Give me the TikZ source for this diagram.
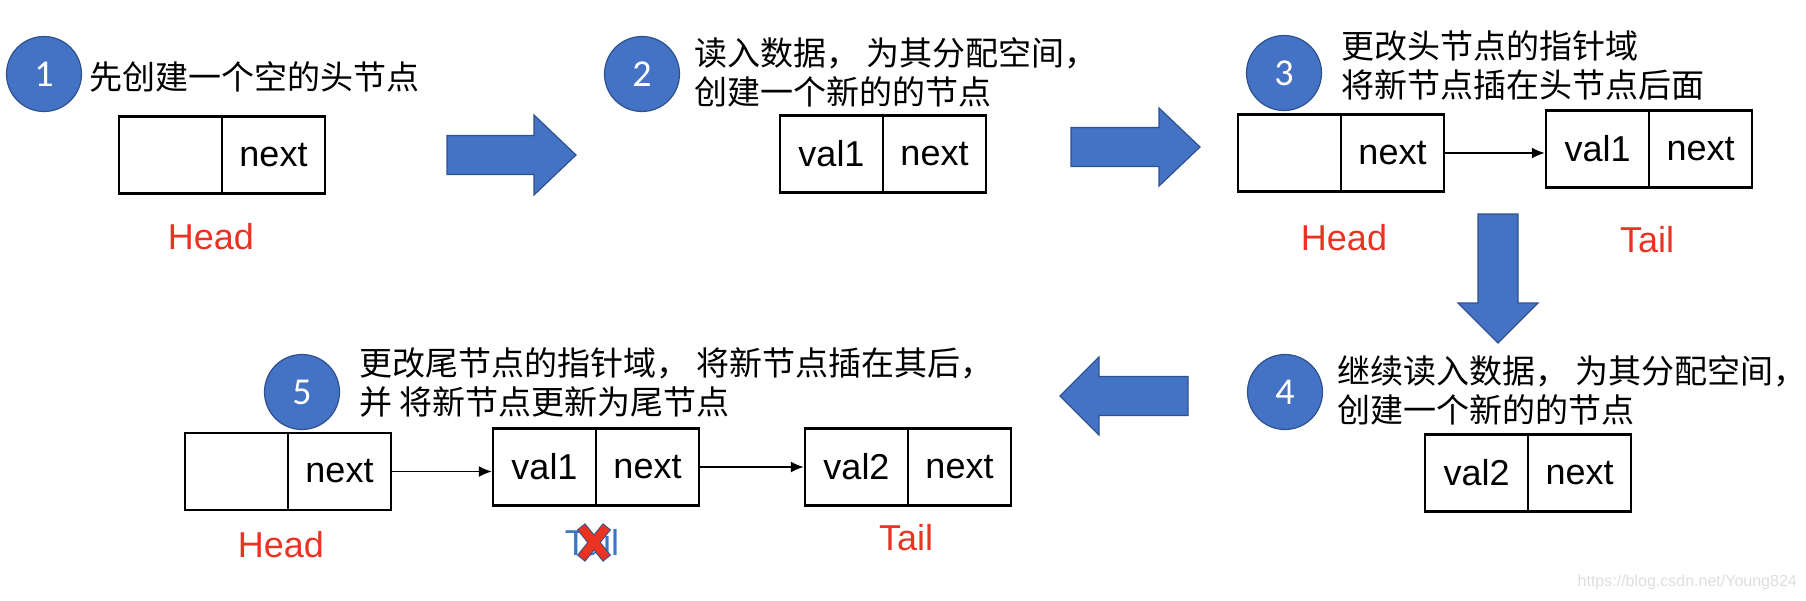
\documentclass[tikz,border=0pt]{standalone}
\usepackage{fontspec}
\setmainfont{Liberation Sans}
\newfontfamily\cjk{Noto Sans CJK SC}
\newfontfamily\numfont{Carlito}
\usetikzlibrary{arrows.meta}
\definecolor{obl}{HTML}{4472C4}
\definecolor{obd}{HTML}{2F528F}
\definecolor{hred}{HTML}{EA3323}
\definecolor{tblue}{HTML}{3B78C2}
\definecolor{wmgray}{gray}{0.87}
\begin{document}
\begin{tikzpicture}[x=1pt,y=-1pt,
 cell/.style={draw=black,line width=2.4pt,minimum width=103pt,minimum height=77pt,inner sep=0pt,font=\fontsize{36}{36}\selectfont},
 numc/.style={circle,fill=obl,draw=obd,line width=1.2pt,minimum size=75pt,inner sep=0pt,text=white,font=\numfont\fontsize{38}{38}\selectfont},
 cn/.style={anchor=west,align=left,inner sep=0pt,font=\cjk\fontsize{33}{39}\selectfont},
 lab/.style={text=hred,inner sep=0pt,font=\fontsize{36}{36}\selectfont},
 barrow/.style={fill=obl,draw=obd,line width=1.2pt,line join=miter},
 conn/.style={draw=black,line width=1.7pt,-{Latex[length=13pt,width=11pt]}}
]
\useasboundingbox (0,0) rectangle (1806,600);

% step 1
\node[numc] (n1) at (44,74) {1};
\node[cn] (t1) at (89,77) {先创建一个空的头节点};
\node[cell] (b1l) at (170.5,155) {};
\node[cell] (b1r) at (273.5,155) {next};
\node[lab] (h1) at (211,237) {Head};
\draw[barrow] (447,135.5) -- (534,135.5) -- (534,115) -- (576,155) -- (534,195) -- (534,174.5) -- (447,174.5) -- cycle;

% step 2
\node[numc] (n2) at (642,74) {2};
\node[cn] (t2) at (694,72.5) {读入数据， 为其分配空间，\\创建一个新的的节点};
\node[cell] (b2l) at (831.5,154) {val1};
\node[cell] (b2r) at (934.5,154) {next};
\draw[barrow] (1071,127.5) -- (1159,127.5) -- (1159,108) -- (1200,147) -- (1159,186) -- (1159,166.5) -- (1071,166.5) -- cycle;

% step 3
\node[numc] (n3) at (1284,73) {3};
\node[cn] (t3) at (1341,65) {更改头节点的指针域\\将新节点插在头节点后面};
\node[cell] (b3al) at (1289.5,153) {};
\node[cell] (b3ar) at (1392.5,153) {next};
\node[cell] (b3bl) at (1597.5,149) {val1};
\node[cell] (b3br) at (1700.5,149) {next};
\draw[conn] (b3ar.east) -- (b3bl.west |- b3ar.east);
\node[lab] (h3) at (1344,238) {Head};
\node[lab] (tl3) at (1647,240) {Tail};
\draw[barrow] (1478,214) -- (1518,214) -- (1518,303) -- (1538,303) -- (1498,343) -- (1458,303) -- (1478,303) -- cycle;

% step 4
\node[numc] (n4) at (1285,392) {4};
\node[cn] (t4) at (1337,390.5) {继续读入数据， 为其分配空间，\\创建一个新的的节点};
\node[cell] (b4l) at (1476.5,473) {val2};
\node[cell] (b4r) at (1579.5,473) {next};
\draw[barrow] (1188,376.5) -- (1099,376.5) -- (1099,357) -- (1060,396) -- (1099,435) -- (1099,415.5) -- (1188,415.5) -- cycle;

% step 5
\node[numc] (n5) at (302,392) {5};
\node[cn] (t5) at (359,383) {更改尾节点的指针域， 将新节点插在其后，\\并 将新节点更新为尾节点};
\node[cell] (b5al) at (236.5,471.5) {};
\node[cell] (b5ar) at (339.5,471.5) {next};
\node[cell] (b5bl) at (544.5,467) {val1};
\node[cell] (b5br) at (647.5,467) {next};
\node[cell] (b5cl) at (856.5,467) {val2};
\node[cell] (b5cr) at (959.5,467) {next};
\draw[conn] (b5ar.east) -- (b5bl.west |- b5ar.east);
\draw[conn] (b5br.east) -- (b5cl.west);
\node[lab] (h5) at (281,545) {Head};
\node[lab,text=tblue] (tx) at (592,543) {Tail};
\begin{scope}[shift={(tx.center)}]
 \draw[obd,line width=10.5pt] (-11,-16.5) -- (15,15.5) (-11,15.5) -- (15,-16.5);
 \draw[hred,line width=8.5pt] (-10.4,-15.7) -- (14.4,14.7) (-10.4,14.7) -- (14.4,-15.7);
\end{scope}
\node[lab] (tl5) at (906,538) {Tail};

\node[anchor=east,inner sep=0pt,text=wmgray,font=\fontsize{16}{16}\selectfont] (wm) at (1797,582) {https://blog.csdn.net/Young824};
\end{tikzpicture}
\end{document}
